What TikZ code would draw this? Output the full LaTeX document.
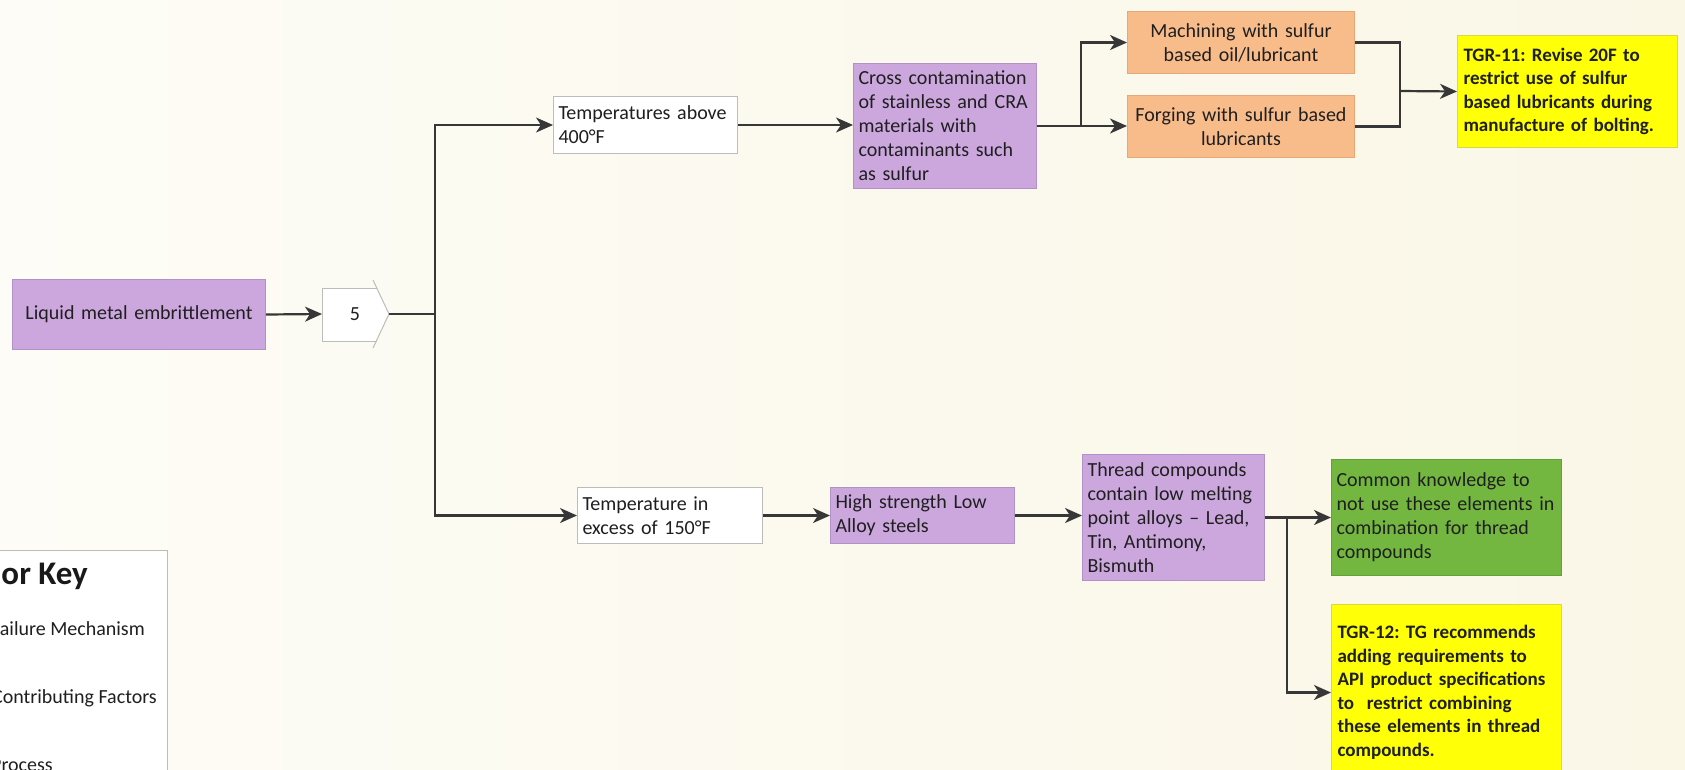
\documentclass[tikz,border=0pt]{standalone}
\usepackage{fontspec}
\setmainfont{Carlito}
\usetikzlibrary{arrows.meta,calc}

\definecolor{bgA}{RGB}{253,252,246}
\definecolor{bgB}{RGB}{250,247,231}
\definecolor{lilac}{RGB}{203,167,222}
\definecolor{lilacedge}{RGB}{176,146,198}
\definecolor{peach}{RGB}{248,188,139}
\definecolor{peachedge}{RGB}{230,168,118}
\definecolor{lemon}{RGB}{255,255,8}
\definecolor{lemonedge}{RGB}{222,214,70}
\definecolor{leaf}{RGB}{116,183,64}
\definecolor{leafedge}{RGB}{98,160,58}
\definecolor{wirecol}{RGB}{55,55,55}
\definecolor{frame}{RGB}{188,188,184}

\begin{document}
\frenchspacing
\begin{tikzpicture}[x=1pt,y=-1pt,
  txt/.style={font=\fontsize{20}{24}\selectfont, text=black!88},
  boldtxt/.style={font=\fontsize{19}{23.5}\selectfont\bfseries, text=black!88},
  card/.style={rectangle, anchor=north west, inner xsep=5pt, inner ysep=2pt,
               line width=1pt, align=left, txt},
  whitebox/.style={card, fill=white, draw=frame},
  mech/.style={card, fill=lilac, draw=lilacedge},
  proc/.style={card, fill=peach, draw=peachedge, align=center},
  rec/.style={card, fill=lemon, draw=lemonedge, inner xsep=6pt, boldtxt},
  known/.style={card, fill=leaf, draw=leafedge, inner xsep=5pt},
  conn/.style={draw=wirecol, line width=2.2pt},
  connarrow/.style={conn, -{Stealth[length=17pt,width=15pt,inset=5pt]}},
  keytext/.style={inner sep=0pt, txt},
]
\useasboundingbox (0,0) rectangle (1685,769);
\clip (0,0) rectangle (1685,769);
\shade[left color=bgA, right color=bgB] (0,0) rectangle (1685,769);

% colour key panel (runs off the left and bottom edges)
\node[rectangle, anchor=north west, fill=white, draw=frame, line width=1pt,
      minimum width=197pt, minimum height=260pt] (keybox) at (-30,550) {};
\node[anchor=base east, inner sep=0pt, text=black!90,
      font=\fontsize{33}{40}\selectfont\bfseries] (keytitle) at (88,584) {Color Key};
\node[keytext, anchor=base east] (kfail) at (145,635) {Failure Mechanism};
\node[keytext, anchor=base east] (kcontrib) at (157,703) {Contributing Factors};
\node[keytext, anchor=base west] (kproc) at (-9,771) {Process};

% failure mechanism and the numbered chevron
\node[mech, align=center, text width=243pt, minimum height=70pt] (lme) at (12,279)
  {Liquid metal embrittlement};

\fill[white] (322,288) -- (377,288) -- (389,314) -- (377,341) -- (322,341) -- cycle;
\draw[frame, line width=1pt] (377,288) -- (322,288) -- (322,341) -- (377,341);
\draw[frame, line width=1pt] (373,280) -- (389,314) -- (373,348);
\node[txt] (chev) at (355,314) {5};
\coordinate (chevin) at (322,314);
\coordinate (chevtip) at (389,314);
\coordinate (trunk) at (435,314);

% upper branch
\node[whitebox, text width=174pt, minimum height=57pt] (t400) at (553,96)
  {Temperatures above\\400°F};
\node[mech, text width=173pt, minimum height=125pt] (cross) at (853,63)
  {Cross contamination\\of stainless and CRA\\materials with\\contaminants such\\as sulfur};
\node[proc, text width=217pt, minimum height=62pt] (mach) at (1127,11)
  {Machining with sulfur\\based oil/lubricant};
\node[proc, text width=217pt, minimum height=62pt] (forg) at (1127,95)
  {Forging with sulfur based\\lubricants};
\node[rec, text width=208pt, minimum height=112pt] (tgr11) at (1457,35)
  {TGR-11: Revise 20F to\\restrict use of sulfur\\based lubricants during\\manufacture of bolting.};

% lower branch
\node[whitebox, text width=175pt, minimum height=56pt] (t150) at (577,487)
  {Temperature in\\excess of 150°F};
\node[mech, text width=174pt, minimum height=56pt] (hsla) at (830,487)
  {High strength Low\\Alloy steels};
\node[mech, text width=172pt, minimum height=126pt] (thread) at (1082,454)
  {Thread compounds\\contain low melting\\point alloys – Lead,\\Tin, Antimony,\\Bismuth};
\node[known, text width=220pt, minimum height=116pt] (common) at (1331,459)
  {Common knowledge to\\\mbox{not use these elements in}\\combination for thread\\compounds};
\node[rec, text width=218pt, minimum height=176pt] (tgr12) at (1331,604)
  {TGR-12: TG recommends\\adding requirements to\\\mbox{API product specifications}\\to\ \ restrict combining\\these elements in thread\\compounds.};

% junction points
\coordinate (split1) at (1081,0);
\coordinate (merge1) at (1400,91);
\coordinate (split2) at (1287,0);

% connectors
\draw[connarrow] (lme.east) -- (chevin);
\draw[conn] (chevtip) -- (trunk);
\draw[connarrow] (trunk) |- (t400.west);
\draw[connarrow] (trunk) |- (t150.west);

\draw[connarrow] (t400.east) -- (t400.east -| cross.west);
\draw[connarrow] (cross.east) -- (cross.east -| forg.west);
\draw[connarrow] (split1 |- cross.east) |- (mach.west);
\draw[conn] (mach.east) -| (merge1);
\draw[conn] (forg.east) -| (merge1);
\draw[connarrow] (merge1) -- (tgr11.west);

\draw[connarrow] (t150.east) -- (hsla.west);
\draw[connarrow] (hsla.east) -- (hsla.east -| thread.west);
\draw[connarrow] (thread.east) -- (thread.east -| common.west);
\draw[connarrow] (split2 |- thread.east) |- (tgr12.west);
\end{tikzpicture}
\end{document}
